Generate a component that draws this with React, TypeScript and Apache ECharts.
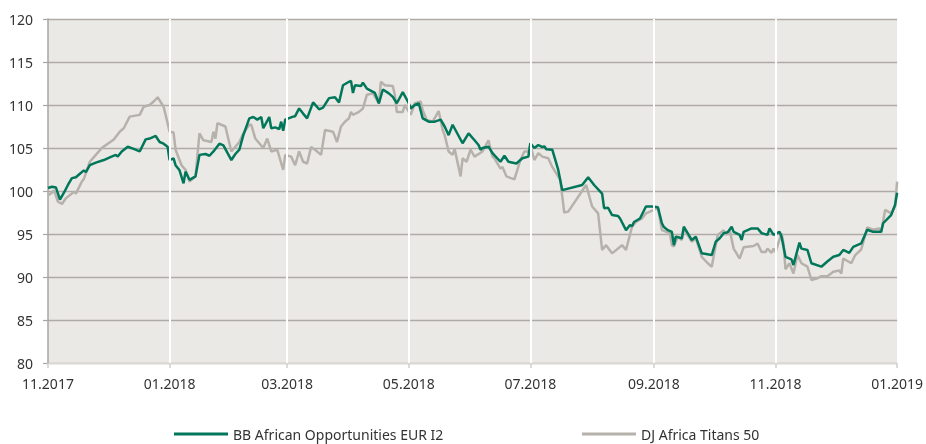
import React, { useEffect, useRef } from "react";
import * as echarts from "echarts";

const START = "2017-11-01";
const END = "2019-01-01";
const tickDates = ["2017-11-01", "2018-01-01", "2018-03-01", "2018-05-01", "2018-07-01", "2018-09-01", "2018-11-01", "2019-01-01"];
const yTicks = { min: 80, max: 120, interval: 5 };

const fundName = "BB African Opportunities EUR I2";
const indexName = "DJ Africa Titans 50";

// days since 2017-11-01
const fundDays = [0,2,4,6,8,10,12,14,16,18,19,21,24,28,31,34,35,37,40,43,46,49,51,54,56,58,60,61,63,64,66,68,69,71,74,76,79,81,83,86,88,92,94,96,98,101,103,105,107,108,111,112,114,116,117,118,119,123,124,126,128,130,133,136,138,141,144,146,148,151,152,153,154,157,158,160,164,166,168,171,173,175,178,181,182,184,186,188,191,194,197,199,201,203,208,211,214,216,217,218,221,223,227,229,231,235,238,241,242,244,246,248,249,250,253,256,258,268,271,274,278,279,281,283,286,287,290,292,293,294,297,300,303,306,308,309,311,313,314,315,318,319,323,325,328,333,335,337,339,341,343,344,347,348,349,353,356,358,361,362,364,367,368,370,373,374,377,378,381,383,388,391,394,397,399,402,404,408,411,414,418,419,423,425,426];
const fundValues = [100.35,100.5,100.4,99.0,99.8,100.7,101.5,101.6,102.0,102.4,102.2,103.0,103.3,103.6,103.9,104.2,104.0,104.6,105.15,104.9,104.6,106.0,106.1,106.4,105.7,105.5,105.15,103.6,103.8,103.0,102.4,100.9,102.25,101.3,101.7,104.2,104.3,104.1,104.6,105.5,105.3,103.6,104.3,104.8,106.5,108.45,108.6,108.3,108.6,107.3,108.6,107.3,107.4,107.2,108.06,107.0,108.3,108.65,108.7,109.6,109.0,108.45,110.3,109.5,109.7,110.8,110.9,110.3,112.3,112.7,112.8,111.4,112.3,112.2,112.6,111.9,111.4,110.2,111.8,111.35,110.95,110.2,111.5,110.2,109.6,110.0,110.2,108.45,108.06,108.06,108.3,107.5,106.5,107.7,105.55,106.7,105.9,105.35,104.8,105.0,105.15,104.4,103.4,104.1,103.4,103.2,103.8,104.0,105.55,105.0,105.35,105.1,105.2,104.85,104.8,102.45,100.1,100.7,101.6,100.7,99.7,98.0,98.05,97.2,97.1,96.8,95.45,96.05,95.9,96.4,96.8,98.2,98.2,98.1,96.25,95.8,95.45,95.25,93.7,94.7,94.5,95.85,94.3,94.7,92.75,92.55,94.1,94.5,95.1,95.2,95.85,95.25,94.9,94.3,95.25,95.65,95.65,95.1,94.9,95.65,94.9,95.25,94.7,92.35,92.05,91.4,94.0,93.3,93.15,91.6,91.2,91.8,92.35,92.55,93.15,92.8,93.5,93.9,95.5,95.25,95.25,96.25,97.2,98.4,99.8];

const indexDays = [0,2,3,5,7,9,13,14,17,18,21,24,27,30,33,36,38,41,46,48,51,53,55,58,59,61,63,64,67,69,71,74,76,78,82,83,84,85,89,92,96,98,101,102,104,108,110,112,115,118,119,122,124,126,128,130,132,134,137,139,143,145,147,149,151,152,153,156,158,160,163,166,167,169,173,174,175,178,179,182,184,187,188,190,193,196,198,199,201,203,204,207,208,210,212,214,218,221,223,224,227,228,230,234,237,239,241,242,244,246,248,251,253,257,259,261,270,273,276,278,280,283,288,290,293,295,298,300,306,308,312,313,314,316,318,319,323,325,328,331,333,336,339,340,342,344,347,349,354,356,358,360,361,363,364,365,368,369,370,372,374,376,378,381,383,386,388,391,394,397,398,399,403,405,408,411,414,417,418,420,423,425,426];
const indexValues = [99.5,99.8,100.1,98.75,98.5,99.15,99.9,99.7,101.1,101.4,103.4,104.2,105.0,105.5,106.0,106.9,107.3,108.65,108.85,109.8,110.0,110.4,110.9,109.8,108.85,106.9,106.8,104.8,103.0,102.45,101.1,101.7,106.7,105.9,105.7,106.9,106.1,107.9,107.5,104.6,105.7,106.7,107.7,107.7,106.1,105.0,106.1,104.6,104.8,102.45,104.2,104.0,103.0,104.6,103.4,103.2,105.1,104.8,104.2,107.1,106.9,105.7,107.5,108.06,108.45,109.2,108.85,109.2,109.6,111.2,111.35,110.2,112.7,112.3,112.2,111.2,109.2,109.2,110.0,108.85,110.2,110.4,109.4,108.25,108.06,109.3,107.1,106.5,104.6,104.2,104.9,101.7,103.8,103.4,104.8,104.0,104.6,105.9,104.0,103.8,102.6,102.8,101.7,101.35,103.6,104.6,104.6,105.35,103.6,104.4,104.0,103.8,102.8,101.3,97.5,97.6,100.7,98.2,97.4,93.15,93.7,92.75,93.7,93.15,95.85,96.4,96.8,97.4,98.0,95.45,95.1,93.7,93.55,94.7,94.3,95.65,94.1,94.5,92.35,91.6,91.2,94.9,95.45,94.9,95.45,93.3,92.15,93.45,93.6,93.9,92.9,92.9,93.3,92.8,93.3,92.9,95.1,93.9,90.9,91.6,90.4,92.55,91.6,91.2,89.65,89.85,90.1,90.1,90.6,90.75,90.4,92.15,91.6,92.55,93.2,95.75,95.5,95.65,95.25,97.8,97.4,98.2,101.1];

const DAY = 86400000;
const toMs = (s: string) => {
  const [y, m, d] = s.split("-").map(Number);
  return Date.UTC(y, m - 1, d);
};
const startMs = toMs(START);
const tickMs = tickDates.map(toMs);
const fmt = (v: number) => {
  const d = new Date(v);
  const m = d.getUTCMonth() + 1;
  return (m < 10 ? "0" + m : "" + m) + "." + d.getUTCFullYear();
};

const FONT = "'Noto Sans', sans-serif";

export default function App() {
  const ref = useRef<HTMLDivElement>(null);
  useEffect(() => {
    if (!ref.current) return;
    const chart = echarts.init(ref.current, undefined, { renderer: "svg" });
    const fundData = fundDays.map((d, i) => [startMs + d * DAY, fundValues[i]]);
    const indexData = indexDays.map((d, i) => [startMs + d * DAY, indexValues[i]]);
    chart.setOption({
      animation: false,
      grid: {
        left: 48,
        right: 26,
        top: 19,
        bottom: 81,
        show: true,
        backgroundColor: "#ebe9e6",
        borderWidth: 0,
      },
      xAxis: {
        type: "value",
        min: toMs(START),
        max: toMs(END),
        axisLine: { show: true, lineStyle: { color: "#dcdad6", width: 1 } },
        axisTick: { show: true, length: 5, customValues: tickMs, lineStyle: { color: "#d2cfcb", width: 1.5 } },
        axisLabel: {
          customValues: tickMs,
          formatter: (v: number) => fmt(v),
          color: "#333",
          fontSize: 14,
          fontFamily: FONT,
          margin: 13,
          showMinLabel: true,
          showMaxLabel: true,
        },
        splitLine: { show: false },
      },
      yAxis: {
        type: "value",
        min: yTicks.min,
        max: yTicks.max,
        interval: yTicks.interval,
        axisLine: { show: true, lineStyle: { color: "#a9a6a2", width: 1.5 } },
        axisTick: { show: true, length: 5, lineStyle: { color: "#a9a6a2", width: 1.2 } },
        axisLabel: { color: "#333", fontSize: 14, fontFamily: FONT, margin: 15 },
        splitLine: { show: true, lineStyle: { color: "#aeaba7", width: 1.3 } },
      },
      legend: [
        {
          data: [fundName],
          left: 174,
          top: 427,
          padding: 0,
          icon: "rect",
          itemWidth: 54,
          itemHeight: 3,
          textStyle: { color: "#333", fontSize: 14, fontFamily: FONT },
        },
        {
          data: [indexName],
          left: 582,
          top: 427,
          padding: 0,
          icon: "rect",
          itemWidth: 54,
          itemHeight: 3,
          textStyle: { color: "#333", fontSize: 14, fontFamily: FONT },
        },
      ],
      series: [
        {
          type: "line",
          name: "grid",
          data: [],
          z: 1,
          silent: true,
          markLine: {
            silent: true,
            symbol: ["none", "none"],
            label: { show: false },
            lineStyle: { color: "#ffffff", width: 2, type: "solid" },
            data: tickMs.slice(1, -1).map((t) => ({ xAxis: t })),
          },
        },
        {
          type: "line",
          name: indexName,
          data: indexData,
          showSymbol: false,
          symbol: "none",
          z: 2,
          color: "#b6b1ab",
          lineStyle: { color: "#b6b1ab", width: 2.5 },
        },
        {
          type: "line",
          name: fundName,
          data: fundData,
          showSymbol: false,
          symbol: "none",
          z: 3,
          color: "#00775a",
          lineStyle: { color: "#00775a", width: 2.5 },
        },
      ],
    });
    return () => chart.dispose();
  }, []);
  return <div ref={ref} style={{ position: "fixed", left: 0, top: 0, width: 926, height: 444 }} />;
}
